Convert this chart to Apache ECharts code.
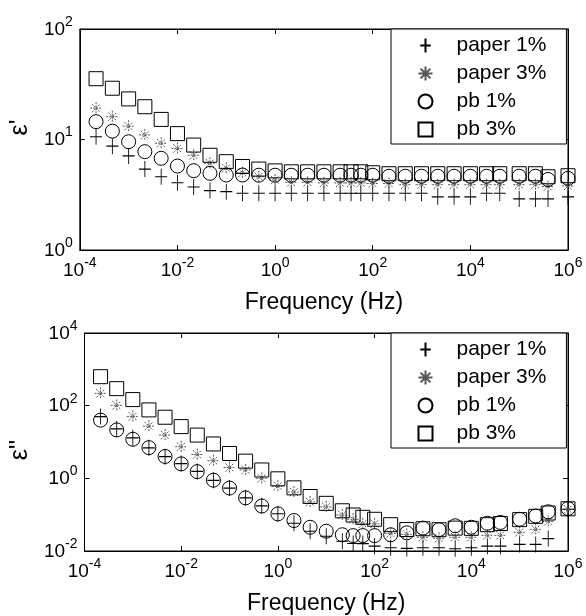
<!DOCTYPE html>
<html><head><meta charset="utf-8">
<script src="https://cdn.jsdelivr.net/npm/echarts@6/dist/echarts.min.js"></script>
<style>html,body{margin:0;padding:0;background:#fff}#c{width:586px;height:616px}</style>
</head><body><div id="c"></div>
<script>
// Frequencies (Hz), shared by all series
const freq = [2.15e-4, 4.64e-4, 1e-3, 2.15e-3, 4.64e-3, 1e-2, 2.15e-2, 4.64e-2, 0.1, 0.215, 0.464,
  1, 2.15, 4.64, 10, 21.5, 36, 57, 100, 215, 464, 1000, 2150, 4640, 1e4, 2.15e4, 4e4, 1e5, 2.15e5, 3.9e5, 1e6];

const seriesNames = ['paper 1%', 'paper 3%', 'pb 1%', 'pb 3%'];

// Top panel: epsilon'
const epsReal_paper1 = [10.6, 8.7, 7.1, 5.4, 4.6, 4.06, 3.72, 3.45, 3.37, 3.26, 3.26,
  3.26, 3.26, 3.26, 3.26, 3.26, 3.26, 3.26, 3.26, 3.26, 3.26, 3.26, 3.03, 3.03, 3.03, 3.26, 3.26, 2.9, 2.9, 2.9, 3.03];
const epsReal_paper3 = [19.2, 16.1, 13.2, 11.0, 9.25, 8.3, 7.2, 6.1, 5.5, 5.0, 4.6,
  4.3, 4.1, 4.1, 4.05, 4.05, 4.05, 4.05, 4.0, 4.0, 3.9, 3.9, 3.9, 3.9, 3.9, 3.9, 3.9, 3.9, 3.9, 3.75, 3.8];
const epsReal_pb1 = [14.5, 11.9, 9.55, 7.76, 6.76, 5.75, 5.22, 4.94, 4.77, 4.77, 4.75,
  4.75, 4.75, 4.75, 4.75, 4.75, 4.75, 4.75, 4.75, 4.65, 4.65, 4.65, 4.65, 4.65, 4.65, 4.65, 4.65, 4.65, 4.65, 4.35, 4.45];
const epsReal_pb3 = [35.5, 29.1, 23.3, 19.8, 15.2, 11.3, 8.9, 7.2, 6.3, 5.7, 5.4,
  5.2, 5.1, 5.1, 5.1, 5.1, 5.1, 5.1, 5.0, 4.9, 4.9, 4.9, 4.9, 4.9, 4.9, 4.9, 4.9, 4.9, 4.9, 4.6, 4.7];

// Bottom panel: epsilon''
const epsImag_paper1 = [50, 23, 13, 6.9, 3.94, 2.54, 1.55, 0.88, 0.54, 0.29, 0.175,
  0.106, 0.058, 0.035, 0.0254, 0.0186, 0.0161, 0.016, 0.0136, 0.0123, 0.0118, 0.0123, 0.0123, 0.0115, 0.0123, 0.0136, 0.0136, 0.0152, 0.0152, 0.022, 0.14];
const epsImag_paper3 = [218, 102, 50.5, 27.4, 15.5, 7.4, 4.54, 3.06, 1.98, 1.70, 1.0,
  0.61, 0.42, 0.224, 0.164, 0.098, 0.075, 0.056, 0.056, 0.0306, 0.0288, 0.0239, 0.0224, 0.0239, 0.0239, 0.027, 0.027, 0.0327, 0.0394, 0.065, 0.14];
const epsImag_pb1 = [40, 21.5, 11.9, 7.0, 4.0, 2.5, 1.53, 0.89, 0.54, 0.29, 0.173,
  0.105, 0.069, 0.045, 0.035, 0.028, 0.0265, 0.0265, 0.0265, 0.028, 0.0316, 0.0427, 0.0385, 0.0495, 0.045, 0.058, 0.061, 0.0747, 0.092, 0.12, 0.148];
const epsImag_pb3 = [627, 294, 147, 76.5, 48, 26.5, 15.5, 8.83, 4.83, 2.97, 1.70,
  0.97, 0.547, 0.316, 0.205, 0.128, 0.098, 0.0845, 0.0746, 0.053, 0.039, 0.041, 0.0385, 0.0427, 0.042, 0.053, 0.057, 0.073, 0.09, 0.111, 0.145];

// Axis tick exponents (labels are 10^n)
const xTickExp = [-4, -2, 0, 2, 4, 6];
const yTopTickExp = [0, 1, 2];
const yBotTickExp = [-2, 0, 2, 4];

const FONT = 'Liberation Sans, Arial, sans-serif';
const supLabel = v => '{b|10}{s|' + Math.round(Math.log10(v)) + '}';
const richLab = {
  b: { fontSize: 19, lineHeight: 20, verticalAlign: 'bottom', fontFamily: FONT, color: '#000' },
  s: { fontSize: 14, lineHeight: 14, padding: [0, 0, 10, 0], verticalAlign: 'bottom', fontFamily: FONT, color: '#000' }
};

const symCross = 'path://M6,0L6,16M0,8L12,8';
const symStar = 'path://M6,0L6,12M0,6L12,6M1.8,1.8L10.2,10.2M1.8,10.2L10.2,1.8';
const styles = [
  { symbol: symCross, size: [12, 16], color: '#000', dash: 'solid' },
  { symbol: symStar, size: [12, 12], color: '#555', dash: [2, 1] },
  { symbol: 'circle', size: 14, color: '#000', dash: 'solid' },
  { symbol: 'rect', size: 14, color: '#000', dash: 'solid' }
];

function mkSeries(idx, vals, g) {
  const st = styles[idx];
  return {
    name: seriesNames[idx], type: 'scatter', xAxisIndex: g * 2, yAxisIndex: g * 2,
    data: freq.map((f, i) => [f, vals[i]]),
    symbol: st.symbol, symbolSize: st.size,
    itemStyle: { color: 'none', borderColor: st.color, borderWidth: 1, borderType: st.dash, opacity: 1 },
    emphasis: { disabled: true }, clip: false
  };
}

function xAxes(g) {
  const base = {
    type: 'log', logBase: 10, gridIndex: g,
    min: Math.pow(10, xTickExp[0]), max: Math.pow(10, xTickExp[xTickExp.length - 1]), interval: 2,
    axisLine: { show: true, onZero: false, lineStyle: { color: '#000', width: 1 } },
    axisTick: { show: true, inside: true, length: 5, lineStyle: { color: '#000' } },
    splitLine: { show: false }, minorTick: { show: false }
  };
  return [
    Object.assign({}, base, {
      position: 'bottom',
      axisLabel: { show: true, margin: 10, formatter: supLabel, rich: richLab },
      name: 'Frequency (Hz)', nameLocation: 'middle', nameGap: 41,
      nameTextStyle: { fontSize: 23, color: '#000', fontFamily: FONT }
    }),
    Object.assign({}, base, { position: 'top', axisLabel: { show: false } })
  ];
}

function yAxes(g, exps, name, namePad) {
  const base = {
    type: 'log', logBase: 10, gridIndex: g,
    min: Math.pow(10, exps[0]), max: Math.pow(10, exps[exps.length - 1]), interval: exps[1] - exps[0],
    axisLine: { show: true, onZero: false, lineStyle: { color: '#000', width: 1 } },
    axisTick: { show: true, inside: true, length: 5, lineStyle: { color: '#000' } },
    splitLine: { show: false }
  };
  return [
    Object.assign({}, base, {
      position: 'left',
      axisLabel: { show: true, margin: 7, formatter: supLabel, rich: richLab },
      name: name, nameLocation: 'middle', nameGap: 46, nameRotate: 90,
      nameTextStyle: { fontSize: 25, color: '#000', fontFamily: FONT, padding: namePad }
    }),
    Object.assign({}, base, { position: 'right', axisLabel: { show: false } })
  ];
}

function legendAt(top) {
  return {
    data: seriesNames, orient: 'vertical', left: 391, top: top,
    padding: [6, 20, 4, 25], itemGap: 7, itemWidth: 14, itemHeight: 14,
    backgroundColor: '#fff', borderColor: '#000', borderWidth: 1, borderRadius: 0,
    selectedMode: false,
    textStyle: { fontSize: 21, color: '#000', fontFamily: FONT, padding: [0, 0, 0, 19] }
  };
}

const chart = echarts.init(document.getElementById('c'), null, { renderer: 'canvas' });
chart.setOption({
  animation: false,
  backgroundColor: '#fff',
  grid: [
    { left: 74, right: 18, top: 29, height: 221, show: true, borderColor: '#000', borderWidth: 1, backgroundColor: 'transparent' },
    { left: 74, right: 18, top: 333, height: 222, show: true, borderColor: '#000', borderWidth: 1, backgroundColor: 'transparent' }
  ],
  xAxis: xAxes(0).concat(xAxes(1)),
  yAxis: yAxes(0, yTopTickExp, "ε'", [0, 0, 0, 24]).concat(yAxes(1, yBotTickExp, "ε''", [0, 16, 0, 0])),
  legend: [legendAt(29), legendAt(333)],
  series: [
    mkSeries(0, epsReal_paper1, 0), mkSeries(1, epsReal_paper3, 0), mkSeries(2, epsReal_pb1, 0), mkSeries(3, epsReal_pb3, 0),
    mkSeries(0, epsImag_paper1, 1), mkSeries(1, epsImag_paper3, 1), mkSeries(2, epsImag_pb1, 1), mkSeries(3, epsImag_pb3, 1)
  ]
});
</script></body></html>
